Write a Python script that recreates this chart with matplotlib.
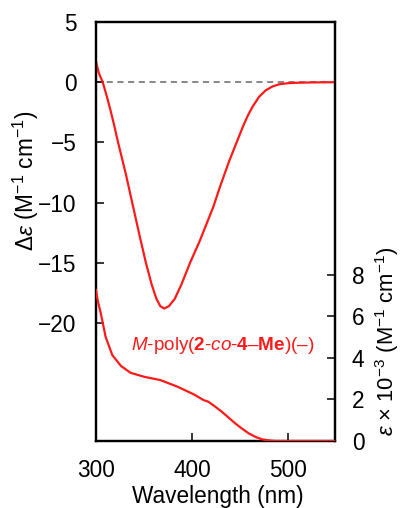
import matplotlib
matplotlib.use("Agg")
import matplotlib.pyplot as plt

plt.rcParams['font.family'] = ['Liberation Sans', 'DejaVu Sans']
plt.rcParams['mathtext.fontset'] = 'custom'
plt.rcParams['mathtext.rm'] = 'Liberation Sans'
plt.rcParams['mathtext.it'] = 'Liberation Sans:italic'
plt.rcParams['mathtext.bf'] = 'Liberation Sans:bold'
plt.rcParams['mathtext.bfit'] = 'Liberation Sans:bold:italic'

# CD spectrum (Δε, M^-1 cm^-1)
cd_wl = [300, 303, 307, 311, 315, 319, 323, 327, 331, 338, 345, 352, 358, 363, 367, 371,
         376, 382, 389, 398, 408, 415, 422, 430, 439, 446, 453, 458, 463, 470, 477, 484,
         491, 500, 508, 525, 549]
cd_val = [1.7, 0.75, 0.0, -1.1, -2.3, -3.6, -5.0, -6.3, -7.6, -10.1, -12.6, -15.0, -16.8, -18.0,
          -18.6, -18.8, -18.6, -18.0, -16.8, -15.0, -13.2, -11.8, -10.4, -8.5, -6.5, -5.1, -3.7,
          -2.8, -2.05, -1.2, -0.67, -0.35, -0.17, -0.08, -0.05, -0.02, 0.0]

# UV-vis absorption (ε × 10^-3, M^-1 cm^-1)
abs_wl = [300, 302, 305, 310, 317, 326, 336, 350, 367, 385, 402, 412, 417, 424, 431, 438,
          445, 452, 459, 466, 473, 480, 487, 500, 520, 549]
abs_val = [7.26, 6.7, 6.14, 5.01, 4.13, 3.61, 3.28, 3.09, 2.93, 2.61, 2.24, 1.97, 1.89, 1.66,
           1.41, 1.13, 0.85, 0.6, 0.37, 0.2, 0.08, 0.03, 0.0, 0.0, 0.0, 0.0]

W, H = 402, 508
fig = plt.figure(figsize=(W / 100, H / 100), dpi=100)
L, R, T, B = 96, 335, 22, 441
ax = fig.add_axes([L / W, 1 - B / H, (R - L) / W, (B - T) / H])
ax2 = ax.twinx()

red = '#ff1a1a'
ax.axhline(0, color='#666666', lw=1.1, ls=(0, (4, 3)), zorder=1)
ax.plot(cd_wl, cd_val, color=red, lw=1.6, zorder=3, solid_joinstyle='round')
ax2.plot(abs_wl, abs_val, color=red, lw=1.6, zorder=3, solid_joinstyle='round')

ax.set_xlim(300, 549)
ax.set_ylim(-29.8, 5)
ax2.set_ylim(0, 20.15)
ax.set_xticks([300, 400, 500])
ax.set_yticks([5, 0, -5, -10, -15, -20])
ax.set_yticklabels(['5', '0', '\u22125', '\u221210', '\u221215', '\u221220'])
ax2.set_yticks([0, 2, 4, 6, 8])

fs = 16.3
for a in (ax, ax2):
    a.tick_params(direction='in', length=6, width=1.1, labelsize=fs)
    for s in a.spines.values():
        s.set_linewidth(1.6)
ax.tick_params(axis='y', pad=14)
ax.tick_params(axis='x', pad=13)
ax2.tick_params(axis='y', pad=12)

fig.text(218 / W, 1 - 496 / H, 'Wavelength (nm)', fontsize=fs, ha='center', va='center')
fig.text(26 / W, 1 - 181 / H, r'$\Delta\varepsilon$ (M$^{-1}$ cm$^{-1}$)', fontsize=fs,
         rotation=90, ha='center', va='center')
fig.text(387 / W, 1 - 341 / H, r'$\varepsilon$ $\times$ 10$^{-3}$ (M$^{-1}$ cm$^{-1}$)', fontsize=15.8,
         rotation=90, ha='center', va='center')

fig.text(131 / W, 1 - 346 / H,
         r'$\mathit{M}$-poly($\mathbf{2}$-$\mathit{co}$-$\mathbf{4}$–$\mathbf{Me}$)(–)',
         color=red, fontsize=13.6, ha='left', va='center')

fig.savefig('out.png', dpi=100)
